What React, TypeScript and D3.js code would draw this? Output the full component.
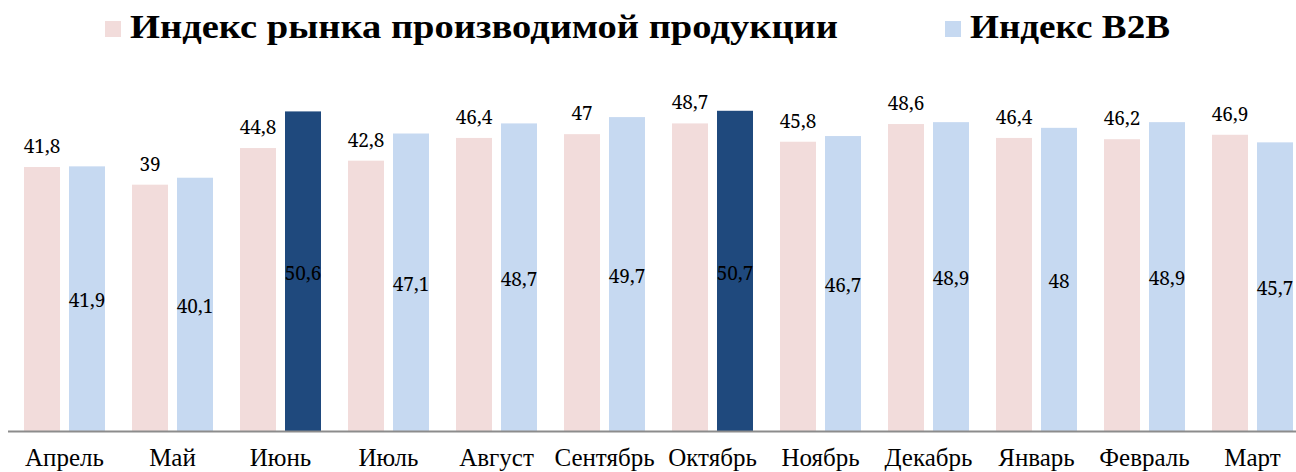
import React from 'react';
import * as d3 from 'd3';

const months = ['Апрель', 'Май', 'Июнь', 'Июль', 'Август', 'Сентябрь', 'Октябрь', 'Ноябрь', 'Декабрь', 'Январь', 'Февраль', 'Март'];
const seriesNames = ['Индекс рынка производимой продукции', 'Индекс B2B'];
const marketIndex = [41.8, 39, 44.8, 42.8, 46.4, 47, 48.7, 45.8, 48.6, 46.4, 46.2, 46.9];
const b2bIndex = [41.9, 40.1, 50.6, 47.1, 48.7, 49.7, 50.7, 46.7, 48.9, 48, 48.9, 45.7];
const highlighted = ['Июнь', 'Октябрь'];

const colors = { market: '#f2dcdb', b2b: '#c6d9f1', hi: '#1f497d' };
const serif = 'Liberation Serif';
const labelFont = 'Noto Serif';

const width = 1296, height = 472;
const baseY = 431;

const x = d3.scaleBand()
  .domain(months)
  .range([10.5, 1306.5])
  .paddingInner(0.25)
  .paddingOuter(0.125);
const xs = d3.scaleBand()
  .domain(['market', 'b2b'])
  .range([0, x.bandwidth()])
  .paddingInner(0.2);
const y = d3.scaleLinear().domain([0, 60]).range([baseY, baseY - 6.316 * 60]);

const fmt = (v) => String(v).replace('.', ',');

// legend entries: swatch x and text width as in the original
const legend = [
  { name: seriesNames[0], color: colors.market, x: 105, len: 708 },
  { name: seriesNames[1], color: colors.b2b, x: 945, len: 200 },
];

const App = () => {
  const rows = months.map((m, i) => ({ m, market: marketIndex[i], b2b: b2bIndex[i] }));
  const bw = xs.bandwidth();

  return (
    <svg width={width} height={height} style={{ position: 'absolute', left: 0, top: 0 }}>
      {legend.map(l => (
        <g key={l.name} transform={`translate(${l.x},21)`}>
          <rect width={16} height={16} fill={l.color} />
          <text x={25} y={17} fontFamily={serif} fontWeight="bold" fontSize={33}
            textLength={l.len} lengthAdjust="spacingAndGlyphs" fill="#000">{l.name}</text>
        </g>
      ))}

      {rows.map(d => {
        const xm = x(d.m) + xs('market');
        const xb = x(d.m) + xs('b2b');
        return (
          <g key={d.m}>
            <rect x={xm} y={y(d.market)} width={bw} height={y(0) - y(d.market)} fill={colors.market} />
            <rect x={xb} y={y(d.b2b)} width={bw} height={y(0) - y(d.b2b)}
              fill={highlighted.includes(d.m) ? colors.hi : colors.b2b} />
            <text x={xm + bw / 2} y={y(d.market) - 14} textAnchor="middle"
              fontFamily={labelFont} fontSize={19} fill="#000">{fmt(d.market)}</text>
            <text x={xb + bw / 2} y={(y(d.b2b) + y(0)) / 2 + 2} dy="0.35em" textAnchor="middle"
              fontFamily={labelFont} fontSize={19} fill="#000">{fmt(d.b2b)}</text>
            <text x={x(d.m) + x.bandwidth() / 2} y={466} textAnchor="middle"
              fontFamily={serif} fontSize={25} fill="#000">{d.m}</text>
          </g>
        );
      })}

      {/* axis line */}
      <line x1={8} x2={width} y1={baseY + 0.5} y2={baseY + 0.5} stroke="#8c8c8c" strokeWidth={2} />
    </svg>
  );
};

export default App;
